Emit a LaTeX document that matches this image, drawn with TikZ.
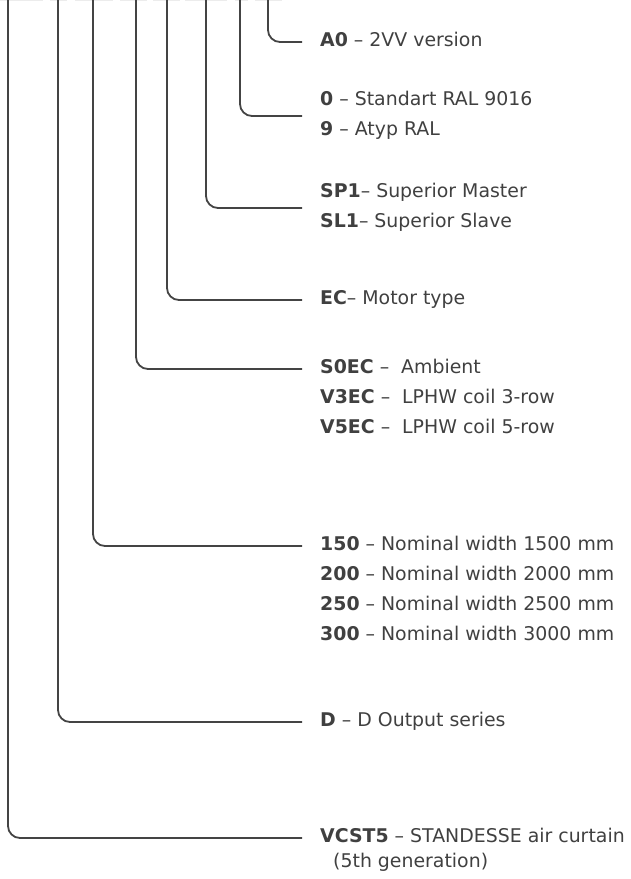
\documentclass[tikz,border=0pt]{standalone}
\usepackage{fontspec}
\setmainfont{DejaVu Sans}
\usepackage{xcolor}
\usepackage{tikz}
\usetikzlibrary{positioning, calc}
\definecolor{leadGrey}{RGB}{68, 68, 68}
\definecolor{labelGrey}{RGB}{64, 64, 64}
\definecolor{edgeGrey}{RGB}{236, 236, 236}

\begin{document}
\begin{tikzpicture}[
    x=1pt, y=-1pt,
    node distance=30pt,
    lead/.style={
        draw=leadGrey,
        line width=1.8pt,
        rounded corners=12pt
    },
    code/.style={
        anchor=west,
        inner sep=0pt,
        text height=0.95em,
        text depth=0pt,
        text=labelGrey,
        font=\fontsize{18.9}{22}\selectfont
    },
    nextline/.style={below=of #1.west, anchor=west}
]
    \useasboundingbox (0,0) rectangle (631,879);

    % faint edge of the code boxes above
    \foreach \a/\b in {0/43, 50/67, 75/113, 120/147, 153/180, 185/227, 235/248, 255/282}
        \draw[edgeGrey, line width=1pt] (\a,0.5) -- (\b,0.5);

    % tops of the leads
    \coordinate (topSeries) at (8,-2);
    \coordinate (topOutput) at (58,-2);
    \coordinate (topWidth) at (93,-2);
    \coordinate (topCoil) at (136,-2);
    \coordinate (topMotor) at (167,-2);
    \coordinate (topCtrl) at (206,-2);
    \coordinate (topRal) at (240,-2);
    \coordinate (topVer) at (268,-2);

    \node[code] (ver) at (320,42) {\textbf{A0} – 2VV version};

    \node[code] (ral0) at (320,101) {\textbf{0} – Standart RAL 9016};
    \node[code, nextline=ral0] (ral9) {\textbf{9} – Atyp RAL};

    \node[code] (sp1) at (320,193) {\textbf{SP1}– Superior Master};
    \node[code, nextline=sp1] (sl1) {\textbf{SL1}– Superior Slave};

    \node[code] (motor) at (320,300) {\textbf{EC}– Motor type};

    \node[code] (s0ec) at (320,369) {\textbf{S0EC} –\ \ Ambient};
    \node[code, nextline=s0ec] (v3ec) {\textbf{V3EC} –\ \ LPHW coil 3-row};
    \node[code, nextline=v3ec] (v5ec) {\textbf{V5EC} –\ \ LPHW coil 5-row};

    \node[code] (w150) at (320,546) {\textbf{150} – Nominal width 1500 mm};
    \node[code, nextline=w150] (w200) {\textbf{200} – Nominal width 2000 mm};
    \node[code, nextline=w200] (w250) {\textbf{250} – Nominal width 2500 mm};
    \node[code, nextline=w250] (w300) {\textbf{300} – Nominal width 3000 mm};

    \node[code] (output) at (320,722) {\textbf{D} – D Output series};

    \node[code] (series) at (320,838) {\textbf{VCST5} – STANDESSE air curtain};
    \node[code, below=25pt of series.west, anchor=west, xshift=13pt] (gen) {(5th generation)};

    \draw[lead] (topVer) |- ([xshift=-18pt]ver.west);
    \draw[lead] (topRal) |- ($(ral0.west)!.5!(ral9.west)+(-18,0)$);
    \draw[lead] (topCtrl) |- ($(sp1.west)!.5!(sl1.west)+(-18,0)$);
    \draw[lead] (topMotor) |- ([xshift=-18pt]motor.west);
    \draw[lead] (topCoil) |- ([xshift=-18pt]s0ec.west);
    \draw[lead] (topWidth) |- ([xshift=-18pt]w150.west);
    \draw[lead] (topOutput) |- ([xshift=-18pt]output.west);
    \draw[lead] (topSeries) |- ([xshift=-18pt]series.west);

\end{tikzpicture}
\end{document}
